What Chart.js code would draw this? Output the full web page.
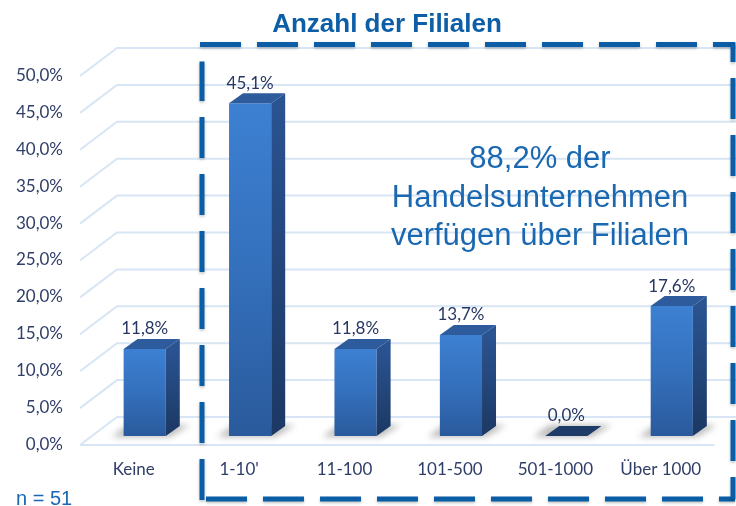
<!DOCTYPE html>
<html>
<head>
<meta charset="utf-8">
<script src="https://cdn.jsdelivr.net/npm/chart.js@4.4.1/dist/chart.umd.min.js"></script>
<style>
html,body{margin:0;padding:0;background:#fff;}
#c{display:block;}
</style>
</head>
<body>
<canvas id="c" width="736" height="506"></canvas>
<script>
const categories = ['Keine', "1-10'", '11-100', '101-500', '501-1000', 'Über 1000'];
const values = [11.8, 45.1, 11.8, 13.7, 0.0, 17.6];
const yMin = 0, yMax = 50, yStep = 5;
const chartTitle = 'Anzahl der Filialen';
const noteLines = ['88,2% der', 'Handelsunternehmen', 'verfügen über Filialen'];
const sampleNote = 'n = 51';

const fmt = v => v.toFixed(1).replace('.', ',') + '%';

// 3D geometry (pixels)
const DEPTH_BAR = {dx: 14, dy: -10};
const FRONT = {dx: -12, dy: 9};
const BACK = {dx: 25, dy: -19};
const LABEL_FONT = '17px Lato, "Open Sans", sans-serif';

const threeD = {
  id: 'threeD',
  beforeDatasetsDraw(chart) {
    const {ctx, chartArea: a, scales: {y}} = chart;
    ctx.save();
    ctx.strokeStyle = '#d8e5f4';
    ctx.lineWidth = 2;
    y.ticks.forEach(t => {
      const py = y.getPixelForValue(t.value);
      ctx.beginPath();
      ctx.moveTo(a.left + FRONT.dx, py + FRONT.dy);
      ctx.lineTo(a.left + BACK.dx, py + BACK.dy);
      ctx.lineTo(736, py + BACK.dy);
      ctx.stroke();
    });
    const p0 = y.getPixelForValue(0);
    ctx.beginPath();
    ctx.moveTo(a.left + FRONT.dx, p0 + FRONT.dy);
    ctx.lineTo(a.right + FRONT.dx + 2, p0 + FRONT.dy);
    ctx.stroke();
    const meta = chart.getDatasetMeta(0);
    ctx.filter = 'blur(3px)';
    ctx.fillStyle = 'rgba(60,60,60,0.35)';
    meta.data.forEach(b => {
      const w = b.width, xl = b.x - w / 2, xr = b.x + w / 2, base = b.base;
      ctx.beginPath();
      ctx.moveTo(xl - 12, base + 1);
      ctx.lineTo(xr + 4, base + 1);
      ctx.lineTo(xr + 24, base - 11);
      ctx.lineTo(xl + 4, base - 11);
      ctx.closePath();
      ctx.fill();
    });
    ctx.filter = 'none';
    ctx.restore();
  },
  afterDatasetsDraw(chart) {
    const {ctx} = chart;
    const meta = chart.getDatasetMeta(0);
    ctx.save();
    meta.data.forEach((b, i) => {
      const w = b.width, xl = b.x - w / 2, xr = b.x + w / 2, top = b.y, base = b.base;
      const {dx, dy} = DEPTH_BAR;
      if (base - top > 0.5) {
        const g = ctx.createLinearGradient(0, top, 0, base);
        g.addColorStop(0, '#2a5391');
        g.addColorStop(1, '#1c3863');
        ctx.fillStyle = g;
        ctx.beginPath();
        ctx.moveTo(xr, top);
        ctx.lineTo(xr + dx, top + dy);
        ctx.lineTo(xr + dx, base + dy);
        ctx.lineTo(xr, base);
        ctx.closePath();
        ctx.fill();
        ctx.fillStyle = '#2d5b9b';
      } else {
        ctx.fillStyle = '#1f3b68';
      }
      ctx.beginPath();
      ctx.moveTo(xl, top);
      ctx.lineTo(xl + dx, top + dy);
      ctx.lineTo(xr + dx, top + dy);
      ctx.lineTo(xr, top);
      ctx.closePath();
      ctx.fill();
      ctx.fillStyle = '#263763';
      ctx.font = LABEL_FONT;
      ctx.textAlign = 'center';
      ctx.textBaseline = 'middle';
      ctx.fillText(fmt(values[i]), b.x, top - 20);
    });
    ctx.restore();
  },
  afterDraw(chart) {
    const {ctx} = chart;
    ctx.save();
    ctx.fillStyle = '#0d5ea6';
    ctx.font = 'bold 26px "Liberation Sans", Arial, sans-serif';
    ctx.textAlign = 'center';
    ctx.textBaseline = 'alphabetic';
    ctx.fillText(chartTitle, 387, 32);
    ctx.fillStyle = '#1a68b1';
    ctx.font = '31px "Liberation Sans", Arial, sans-serif';
    noteLines.forEach((l, i) => ctx.fillText(l, 540, 168 + i * 38.5));
    ctx.textAlign = 'left';
    ctx.font = '20px "Liberation Sans", Arial, sans-serif';
    ctx.fillText(sampleNote, 16, 505);
    ctx.strokeStyle = '#0b5ea6';
    ctx.lineWidth = 5;
    ctx.shadowColor = 'rgba(0,0,0,0.25)';
    ctx.shadowBlur = 3;
    ctx.shadowOffsetY = 1.5;
    ctx.setLineDash([41, 16]);
    const L = 202, R = 733, T = 44.5, B = 499;
    const seg = (x1, y1, x2, y2, off) => {
      ctx.lineDashOffset = off;
      ctx.beginPath(); ctx.moveTo(x1, y1); ctx.lineTo(x2, y2); ctx.stroke();
    };
    seg(L - 2, T, R + 2, T, 0);
    seg(L, B + 1, L, T + 17, 0);
    seg(L - 2, B, R + 2, B, 51);
    seg(R, T - 2, R, B, 21.5);
    ctx.restore();
  }
};

const ctxEl = document.getElementById('c');
new Chart(ctxEl, {
  type: 'bar',
  data: {
    labels: categories,
    datasets: [{
      data: values,
      barPercentage: 0.4,
      categoryPercentage: 1.0,
      borderWidth: 0,
      backgroundColor: (c) => {
        const ch = c.chart;
        if (!ch.chartArea || c.type !== 'data') return '#3370bd';
        const yS = ch.scales.y;
        const top = yS.getPixelForValue(c.parsed.y);
        const base = yS.getPixelForValue(0);
        if (base - top < 1) return '#3370bd';
        const g = ch.ctx.createLinearGradient(0, top, 0, base);
        g.addColorStop(0, '#3d80d2');
        g.addColorStop(0.5, '#3470bc');
        g.addColorStop(1, '#2a5a9c');
        return g;
      }
    }]
  },
  options: {
    responsive: false,
    animation: false,
    devicePixelRatio: 1,
    layout: {padding: {left: 0, right: 10, top: 67, bottom: 0}},
    plugins: {legend: {display: false}, tooltip: {enabled: false}},
    scales: {
      x: {
        grid: {display: false, drawTicks: false},
        border: {display: false},
        ticks: {
          color: '#2f3e68',
          font: {family: 'Lato, "Open Sans", sans-serif', size: 17},
          labelOffset: -11,
          padding: 23,
          maxRotation: 0
        },
        afterFit: s => { s.height = 70; }
      },
      y: {
        min: yMin, max: yMax,
        grid: {display: false, drawTicks: false},
        border: {display: false},
        ticks: {
          stepSize: yStep,
          color: '#2f3e68',
          font: {family: 'Lato, "Open Sans", sans-serif', size: 17},
          padding: 29,
          labelOffset: 8.5,
          callback: v => fmt(v)
        },
        afterFit: s => { s.width = 92; }
      }
    }
  },
  plugins: [threeD]
});
</script>
</body>
</html>
